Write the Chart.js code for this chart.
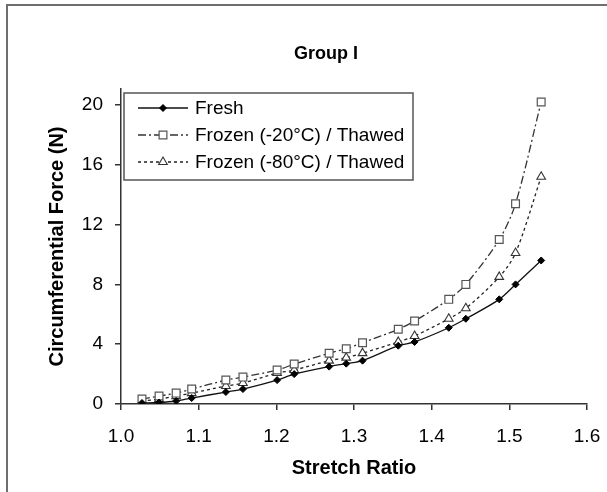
<!DOCTYPE html>
<html>
<head>
<meta charset="utf-8">
<script src="https://cdn.jsdelivr.net/npm/chart.js@4/dist/chart.umd.min.js"></script>
<style>
  html, body { margin: 0; padding: 0; background: #fff; }
  #wrap { width: 607px; height: 492px; position: relative; }
</style>
</head>
<body>
<div id="wrap"><canvas id="c" width="607" height="492"></canvas></div>
<script>
// Stretch ratio at each loading step (shared by all three groups)
const stretchRatio = [1.027, 1.049, 1.071, 1.091, 1.135, 1.157, 1.201, 1.223, 1.268,
                      1.290, 1.311, 1.357, 1.378, 1.422, 1.444, 1.487, 1.508, 1.541];
// Circumferential force (N)
const forceFresh    = [0.07, 0.10, 0.20, 0.40, 0.80, 1.00, 1.60, 2.00, 2.50,
                       2.70, 2.90, 3.90, 4.15, 5.10, 5.70, 7.00, 8.00, 9.60];
const forceFrozen20 = [0.33, 0.53, 0.73, 1.00, 1.60, 1.80, 2.27, 2.67, 3.40,
                       3.70, 4.10, 5.00, 5.55, 7.00, 8.00, 11.0, 13.4, 20.2];
const forceFrozen80 = [0.20, 0.33, 0.53, 0.73, 1.20, 1.40, 2.07, 2.27, 2.90,
                       3.10, 3.40, 4.15, 4.55, 5.70, 6.40, 8.50, 10.1, 15.2];
const seriesNames = ['Fresh', 'Frozen (-20\u00B0C) / Thawed', 'Frozen (-80\u00B0C) / Thawed'];
const xTicks = [1.0, 1.1, 1.2, 1.3, 1.4, 1.5, 1.6];
const yTicks = [0, 4, 8, 12, 16, 20];
const chartTitle = 'Group I';
const xTitle = 'Stretch Ratio';
const yTitle = 'Circumferential Force (N)';

const FONT = '"Liberation Sans", Arial, sans-serif';

function pairs(ys) {
  return stretchRatio.map((x, i) => ({ x: x, y: ys[i] }));
}

// Outer frame, title and the boxed legend inside the plot
const decorations = {
  id: 'decorations',
  beforeDraw(chart) {
    const ctx = chart.ctx;
    ctx.save();
    ctx.fillStyle = '#fff';
    ctx.fillRect(0, 0, chart.width, chart.height);
    ctx.strokeStyle = '#6e6e6e';
    ctx.lineWidth = 2;
    ctx.beginPath();
    ctx.moveTo(7, chart.height);
    ctx.lineTo(7, 5);
    ctx.lineTo(chart.width, 5);
    ctx.stroke();
    ctx.restore();
  },
  afterDraw(chart) {
    const ctx = chart.ctx;
    ctx.save();
    // title
    ctx.fillStyle = '#000';
    ctx.font = 'bold 18px ' + FONT;
    ctx.textAlign = 'center';
    ctx.textBaseline = 'middle';
    ctx.fillText(chartTitle, 326, 54);

    // legend box
    const bx = 124, by = 93, bw = 289, bh = 87;
    ctx.fillStyle = '#fff';
    ctx.fillRect(bx, by, bw, bh);
    ctx.strokeStyle = '#555';
    ctx.lineWidth = 1.5;
    ctx.strokeRect(bx, by, bw, bh);

    const rowH = 27;
    chart.data.datasets.forEach((ds, i) => {
      const cy = by + 15 + i * rowH;
      ctx.save();
      ctx.strokeStyle = ds.borderColor;
      ctx.lineWidth = ds.borderWidth;
      ctx.setLineDash(ds.borderDash || []);
      ctx.beginPath();
      ctx.moveTo(138, cy);
      ctx.lineTo(188, cy);
      ctx.stroke();
      ctx.restore();
      const style = {
        pointStyle: ds.pointStyle,
        radius: ds.pointRadius,
        borderWidth: ds.pointBorderWidth,
        rotation: 0
      };
      ctx.save();
      ctx.fillStyle = ds.pointBackgroundColor;
      ctx.strokeStyle = ds.pointBorderColor;
      ctx.lineWidth = ds.pointBorderWidth;
      ctx.setLineDash([]);
      if (Chart.helpers && Chart.helpers.drawPoint) {
        Chart.helpers.drawPoint(ctx, style, 163, cy);
      }
      ctx.restore();
      ctx.fillStyle = '#000';
      ctx.font = '19px ' + FONT;
      ctx.textAlign = 'left';
      ctx.textBaseline = 'middle';
      ctx.fillText(ds.label, 195, cy + 1);
    });
    ctx.restore();
  }
};

new Chart(document.getElementById('c'), {
  type: 'line',
  data: {
    datasets: [
      {
        label: seriesNames[0],
        data: pairs(forceFresh),
        borderColor: '#111',
        borderWidth: 1.3,
        borderDash: [],
        tension: 0.3,
        pointStyle: 'rectRot',
        pointRadius: 3.5,
        pointBorderWidth: 1,
        pointBackgroundColor: '#000',
        pointBorderColor: '#000',
        fill: false
      },
      {
        label: seriesNames[1],
        data: pairs(forceFrozen20),
        borderColor: '#333',
        borderWidth: 1.3,
        borderDash: [8, 3, 2, 3],
        tension: 0.3,
        pointStyle: 'rect',
        pointRadius: 5.5,
        pointBorderWidth: 1.2,
        pointBackgroundColor: '#fff',
        pointBorderColor: '#555',
        fill: false
      },
      {
        label: seriesNames[2],
        data: pairs(forceFrozen80),
        borderColor: '#222',
        borderWidth: 1.3,
        borderDash: [3, 3],
        tension: 0.3,
        pointStyle: 'triangle',
        pointRadius: 5,
        pointBorderWidth: 1.1,
        pointBackgroundColor: '#fff',
        pointBorderColor: '#333',
        fill: false
      }
    ]
  },
  options: {
    responsive: false,
    animation: false,
    devicePixelRatio: 1,
    layout: { padding: { top: 89, right: 20, bottom: 0, left: 0 } },
    plugins: {
      legend: { display: false },
      title: { display: false },
      tooltip: { enabled: false }
    },
    scales: {
      x: {
        type: 'linear',
        min: 1.0,
        max: 1.6,
        afterBuildTicks(scale) { scale.ticks = xTicks.map(v => ({ value: v })); },
        afterFit(scale) {
          scale.height = 88;
          scale.paddingLeft = 0;
          scale.paddingRight = 0;
        },
        ticks: {
          color: '#000',
          padding: 15,
          maxRotation: 0,
          font: { family: FONT, size: 19 },
          callback: v => Number(v).toFixed(1)
        },
        grid: { drawOnChartArea: false, drawTicks: true, tickLength: 6, color: '#333', lineWidth: 1.5 },
        border: { display: true, color: '#333', width: 1.5 },
        title: {
          display: true,
          text: xTitle,
          color: '#000',
          font: { family: FONT, size: 20, weight: 'bold' },
          padding: { top: 0, bottom: 12 }
        }
      },
      y: {
        type: 'linear',
        min: 0,
        max: 21.07,
        afterBuildTicks(scale) { scale.ticks = yTicks.map(v => ({ value: v })); },
        afterFit(scale) {
          scale.width = 121;
          scale.paddingTop = 0;
          scale.paddingBottom = 0;
        },
        ticks: {
          color: '#000',
          padding: 12,
          font: { family: FONT, size: 19 },
          callback: v => String(v)
        },
        grid: { drawOnChartArea: false, drawTicks: true, tickLength: 6, color: '#333', lineWidth: 1.5 },
        border: { display: true, color: '#333', width: 1.5 },
        title: {
          display: true,
          text: yTitle,
          color: '#000',
          font: { family: FONT, size: 20, weight: 'bold' },
          padding: { top: 45, bottom: 0 }
        }
      }
    }
  },
  plugins: [decorations]
});
</script>
</body>
</html>
